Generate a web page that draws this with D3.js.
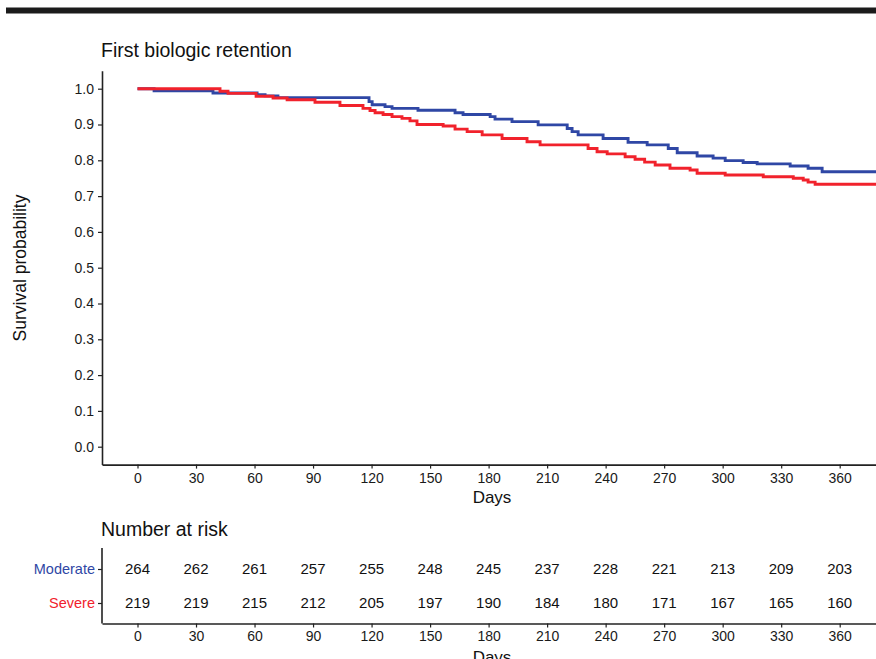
<!DOCTYPE html>
<html>
<head>
<meta charset="utf-8">
<script src="https://cdn.jsdelivr.net/npm/d3@7"></script>
<style>
  body { margin: 0; background: #fff; }
  svg { display: block; font-family: "Liberation Sans", Arial, sans-serif; }
</style>
</head>
<body>
<div id="chart"></div>
<script>
// Kaplan-Meier steps (days, survival)
const moderateTimes = [0, 8.5, 38.7, 61.3, 65.4, 72, 118.7, 120.3, 126.9, 130.5, 143.8, 162.8, 166.9, 180.8, 183.3, 192, 205.4, 220.3, 222.8, 225.9, 238.7, 251.5, 261.3, 272.1, 276.7, 286.9, 295.1, 301.3, 310.5, 317.7, 334.6, 343.8, 351, 382];
const moderateSurv = [1.0, 0.994, 0.988, 0.983, 0.98, 0.975, 0.964, 0.955, 0.95, 0.945, 0.94, 0.933, 0.928, 0.922, 0.915, 0.908, 0.899, 0.889, 0.88, 0.871, 0.861, 0.85, 0.843, 0.833, 0.821, 0.812, 0.806, 0.799, 0.794, 0.79, 0.784, 0.778, 0.768, 0.768];

const severeTimes = [0, 42.3, 46.4, 60.8, 69.5, 76.7, 91, 103.8, 115.6, 119.2, 121.8, 125.9, 130.5, 135.6, 139.7, 143.3, 156.7, 162.8, 169, 176.7, 186.9, 199.7, 206.4, 231, 235.6, 240.8, 250, 255.1, 260, 265.4, 273, 283.3, 286.9, 301.3, 320.8, 336.2, 341.3, 343.8, 347.4, 382];
const severeSurv = [1.0, 0.993, 0.987, 0.979, 0.974, 0.969, 0.962, 0.953, 0.945, 0.939, 0.933, 0.928, 0.922, 0.917, 0.91, 0.9, 0.896, 0.887, 0.88, 0.871, 0.861, 0.852, 0.843, 0.833, 0.824, 0.818, 0.81, 0.803, 0.795, 0.787, 0.778, 0.773, 0.764, 0.759, 0.754, 0.75, 0.745, 0.739, 0.733, 0.733];

const groups = ["Moderate", "Severe"];
const groupColors = ["#2f47a5", "#f1222c"];

const xTicks = [0, 30, 60, 90, 120, 150, 180, 210, 240, 270, 300, 330, 360];
const yTicks = [0, 0.1, 0.2, 0.3, 0.4, 0.5, 0.6, 0.7, 0.8, 0.9, 1.0];

const moderateRisk = [264, 262, 261, 257, 255, 248, 245, 237, 228, 221, 213, 209, 203];
const severeRisk = [219, 219, 215, 212, 205, 197, 190, 184, 180, 171, 167, 165, 160];

const W = 876, H = 659;
const svg = d3.select("#chart").append("svg").attr("width", W).attr("height", H);

// thick rule across the top
svg.append("rect").attr("x", 6).attr("y", 7.5).attr("width", W - 6).attr("height", 6).attr("fill", "#1b1b1b");

const x = d3.scaleLinear().domain([-18.2, 382.2]).range([102, 883]);
const y = d3.scaleLinear().domain([-0.05, 1.05]).range([464.6, 70.8]);

const axisColor = "#222";
const styleAxis = (g, size) => {
  g.select(".domain").attr("stroke", axisColor).attr("stroke-width", 1.6);
  g.selectAll(".tick line").attr("stroke", axisColor).attr("stroke-width", 1.2);
  g.selectAll(".tick text").attr("fill", "#1a1a1a").style("font-size", size + "px").style("font-family", "Liberation Sans, Arial, sans-serif");
};

// title
svg.append("text").attr("x", 101).attr("y", 57).text("First biologic retention")
  .style("font-size", "19.5px").attr("fill", "#111");

// y axis
svg.append("g").attr("transform", "translate(102,0)")
  .call(d3.axisLeft(y).tickValues(yTicks).tickFormat(d3.format(".1f")).tickSize(4).tickPadding(4).tickSizeOuter(0))
  .call(g => styleAxis(g, 14));

// x axis
svg.append("g").attr("transform", "translate(0,464.6)")
  .call(d3.axisBottom(x).tickValues(xTicks).tickSize(4).tickPadding(4).tickSizeOuter(0))
  .call(g => styleAxis(g, 14));

svg.append("text").attr("x", 492).attr("y", 503).attr("text-anchor", "middle")
  .text("Days").style("font-size", "17px").attr("fill", "#111");

svg.append("text").attr("transform", "translate(26,268) rotate(-90)").attr("text-anchor", "middle")
  .text("Survival probability").style("font-size", "17.5px").attr("fill", "#111");

// curves
const line = d3.line().curve(d3.curveStepAfter).x(d => x(d[0])).y(d => y(d[1]));
const series = [
  d3.zip(moderateTimes, moderateSurv),
  d3.zip(severeTimes, severeSurv)
];
svg.append("g").selectAll("path").data(series).join("path")
  .attr("d", line)
  .attr("fill", "none")
  .attr("stroke", (d, i) => groupColors[i])
  .attr("stroke-width", 2.9);

// number at risk table
svg.append("text").attr("x", 101).attr("y", 536).text("Number at risk")
  .style("font-size", "19.5px").attr("fill", "#111");

const yr = d3.scalePoint().domain(groups).range([569, 603]);

const ra = svg.append("g").attr("transform", "translate(102,0)")
  .call(d3.axisLeft(yr).tickSize(4).tickPadding(3).tickSizeOuter(0))
  .call(g => styleAxis(g, 14.5));
ra.select(".domain").attr("d", "M0,548V623.5");
ra.selectAll(".tick text").attr("fill", (d, i) => groupColors[i]);

svg.append("g").attr("transform", "translate(0,623.5)")
  .call(d3.axisBottom(x).tickValues(xTicks).tickSize(4).tickPadding(4).tickSizeOuter(0))
  .call(g => styleAxis(g, 14));

// cut by the bottom edge, as in the reference
svg.append("text").attr("x", 492).attr("y", 663).attr("text-anchor", "middle")
  .text("Days").style("font-size", "17px").attr("fill", "#111");

const riskRows = [moderateRisk, severeRisk];
riskRows.forEach((row, gi) => {
  svg.append("g").selectAll("text").data(row).join("text")
    .attr("x", (d, i) => x(xTicks[i]))
    .attr("y", yr(groups[gi]))
    .attr("dy", "0.36em")
    .attr("text-anchor", "middle")
    .style("font-size", "15px")
    .attr("fill", "#111")
    .text(d => d);
});
</script>
</body>
</html>
